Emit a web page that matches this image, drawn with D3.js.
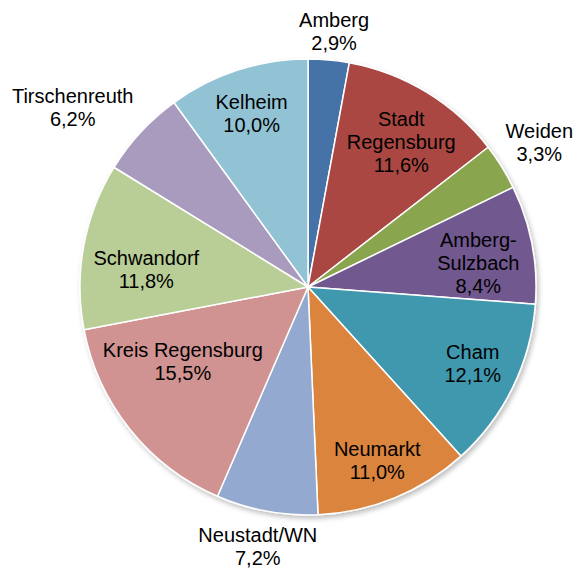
<!DOCTYPE html>
<html>
<head>
<meta charset="utf-8">
<script src="https://cdn.jsdelivr.net/npm/d3@7"></script>
<style>
  html, body { margin: 0; padding: 0; background: #fff; }
  svg { display: block; font-family: "Liberation Sans", Arial, sans-serif; }
</style>
</head>
<body>
<div id="chart"></div>
<script>
// data, clockwise from 12 o'clock
const districts = ['Amberg', 'Stadt Regensburg', 'Weiden', 'Amberg-Sulzbach', 'Cham', 'Neumarkt',
  'Neustadt/WN', 'Kreis Regensburg', 'Schwandorf', 'Tirschenreuth', 'Kelheim']
const shares = [2.9, 11.6, 3.3, 8.4, 12.1, 11.0, 7.2, 15.5, 11.8, 6.2, 10.0]
// how the label text breaks into lines
const labelLines = [['Amberg'], ['Stadt', 'Regensburg'], ['Weiden'], ['Amberg-', 'Sulzbach'], ['Cham'], ['Neumarkt'],
  ['Neustadt/WN'], ['Kreis Regensburg'], ['Schwandorf'], ['Tirschenreuth'], ['Kelheim']]
const outsideLabels = ['Amberg', 'Weiden', 'Neustadt/WN', 'Tirschenreuth']
const colors = ['#4572A7', '#AA4643', '#89A54E', '#71588F', '#4198AF', '#DB843D',
  '#93A9CF', '#D19392', '#B9CD96', '#A99BBD', '#92C3D4']

const width = 577, height = 570
const cx = 308, cy = 287, radius = 228
const fontSize = 20, lineHeight = 23, capHalf = 7

// small hand shifts so the labels sit where Excel's "best fit" put them
const labelNudge = {
  'Stadt Regensburg': [0, 8],
  'Weiden': [0, -5],
  'Amberg-Sulzbach': [0, 8],
  'Cham': [1, -4],
  'Neumarkt': [0, 5],
  'Neustadt/WN': [8, 7],
  'Kreis Regensburg': [-7, -20],
  'Schwandorf': [-2, 12]
}

const data = districts.map((name, i) => ({ name: name, value: shares[i], lines: labelLines[i].concat([d3.format('.1f')(shares[i]).replace('.', ',') + '%']) }))

const svg = d3.select('#chart').append('svg')
  .attr('width', width)
  .attr('height', height)

const defs = svg.append('defs')
defs.append('filter')
  .attr('id', 'shadow')
  .attr('x', '-10%').attr('y', '-10%').attr('width', '120%').attr('height', '120%')
  .append('feDropShadow')
  .attr('dx', 2).attr('dy', 3).attr('stdDeviation', 2.5)
  .attr('flood-color', '#000').attr('flood-opacity', 0.25)

const g = svg.append('g').attr('transform', `translate(${cx},${cy})`)

const pie = d3.pie().sort(null).value(d => d.value)
const arc = d3.arc().innerRadius(0).outerRadius(radius)
const arcs = pie(data)

const color = d3.scaleOrdinal().domain(districts).range(colors)

g.append('g')
  .attr('filter', 'url(#shadow)')
  .selectAll('path')
  .data(arcs)
  .enter().append('path')
  .attr('d', arc)
  .attr('fill', d => color(d.data.name))
  .attr('stroke', '#fff')
  .attr('stroke-width', 1.5)
  .attr('stroke-linejoin', 'round')

// measure text widths
const measure = svg.append('text').attr('font-size', fontSize).attr('visibility', 'hidden')
function textWidth(s) {
  measure.text(s)
  return measure.node().getComputedTextLength()
}

// check every line box stays inside the circle with a margin
function fits(px, py, lines, margin) {
  const n = lines.length
  for (let i = 0; i < n; i++) {
    const w = textWidth(lines[i]) / 2
    const ly = py + (i - (n - 1) / 2) * lineHeight
    for (const x of [px - w, px + w]) {
      for (const y of [ly - capHalf, ly + capHalf]) {
        if (Math.hypot(x, y) > radius - margin) return false
      }
    }
  }
  return true
}

function labelPosition(d) {
  const a = (d.startAngle + d.endAngle) / 2
  const sx = Math.sin(a), sy = -Math.cos(a)
  const lines = d.data.lines
  const nudge = labelNudge[d.data.name] || [0, 0]
  if (outsideLabels.indexOf(d.data.name) !== -1) {
    const halfW = d3.max(lines, textWidth) / 2
    const halfH = ((lines.length - 1) * lineHeight) / 2 + capHalf
    const r = radius + 10
    const clamp = v => Math.max(-1, Math.min(1, v * 1.4))
    let x = sx * r + clamp(sx) * halfW
    const y = sy * r + clamp(sy) * halfH
    x = Math.min(x, width - cx - halfW - 4)
    x = Math.max(x, -cx + halfW + 4)
    return [x + nudge[0], y + nudge[1]]
  }
  let r = radius * 0.8
  while (r > 0 && !fits(sx * r, sy * r, lines, 10)) r -= 1
  return [sx * r + nudge[0], sy * r + nudge[1]]
}

g.append('g')
  .selectAll('text')
  .data(arcs)
  .enter().append('text')
  .attr('font-size', fontSize)
  .attr('fill', '#000')
  .attr('text-anchor', 'middle')
  .each(function(d) {
    const p = labelPosition(d)
    const n = d.data.lines.length
    d3.select(this).selectAll('tspan')
      .data(d.data.lines)
      .enter().append('tspan')
      .attr('x', p[0])
      .attr('y', (t, i) => p[1] + (i - (n - 1) / 2) * lineHeight + capHalf)
      .text(t => t)
  })

measure.remove()
</script>
</body>
</html>
